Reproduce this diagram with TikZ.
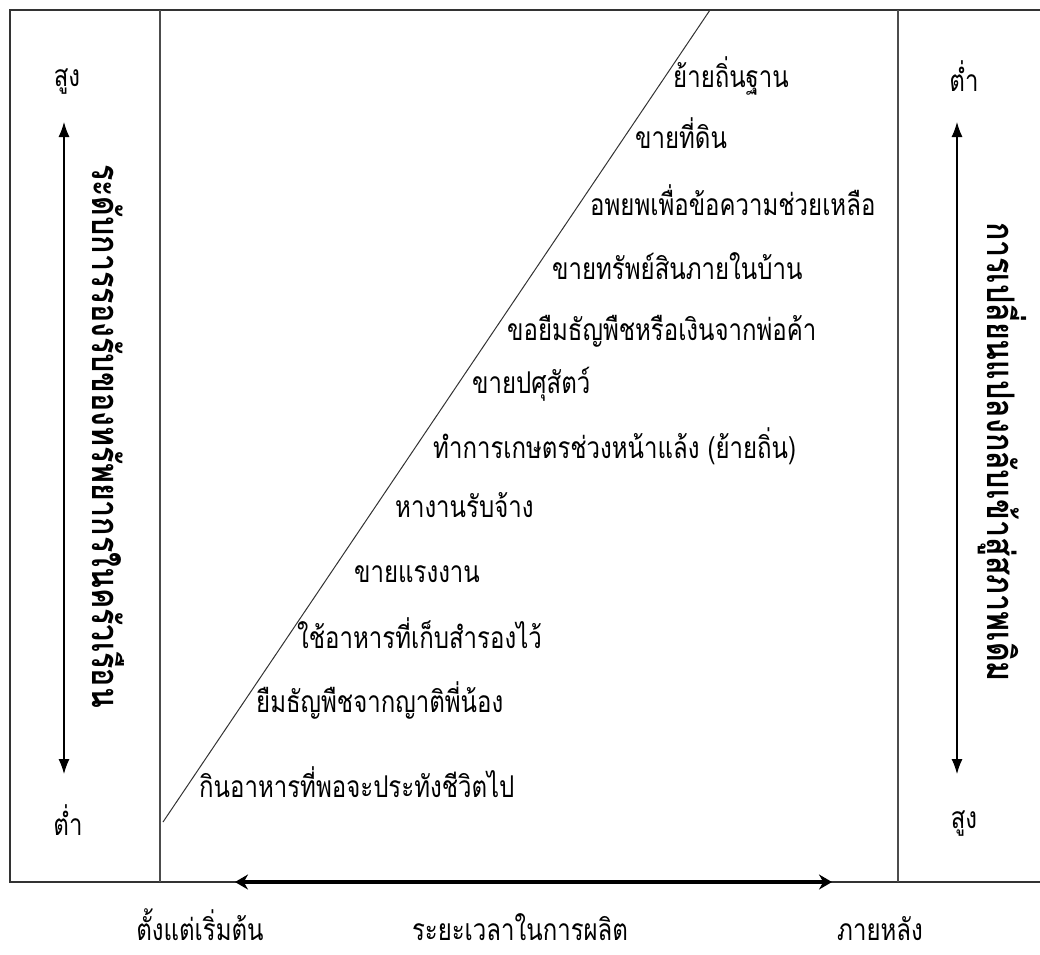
\documentclass[tikz,border=0pt]{standalone}
\usepackage{fontspec}
\newfontfamily\thaifont[Script=Thai,FakeStretch=0.8]{Loma}
\usetikzlibrary{arrows.meta}
\tikzset{
  frameline/.style={line width=1.6pt, draw=black!80},
  thinline/.style={line width=1.2pt, draw=black!70},
  scalearrow/.style={line width=1.1pt, {Latex[length=15pt,width=11pt]}-{Latex[length=15pt,width=11pt]}},
  timearrow/.style={line width=3.5pt, {Stealth[length=13pt,width=15pt]}-{Stealth[length=13pt,width=15pt]}},
  strat/.style={anchor=base west, inner sep=0pt, font=\thaifont\fontsize{30}{34}\selectfont},
  lvl/.style={inner sep=0pt, font=\thaifont\fontsize{30}{34}\selectfont},
  axistext/.style={rotate=-90, inner sep=0pt, font=\thaifont\bfseries\fontsize{38}{42}\selectfont},
}
\begin{document}
\begin{tikzpicture}[x=1pt, y=-1pt]
  \useasboundingbox (0,0) rectangle (1040,954);
  % frame
  \draw[frameline] (1040,10) -- (10,10) -- (10,882) -- (1040,882);
  \draw[thinline] (160,10) -- (160,882);
  \draw[thinline] (898,10) -- (898,882);
  \draw[line width=1pt, black!80] (163,822) -- (710,10);

  % left scale
  \node[lvl] (lhigh) at (67,82) {สูง};
  \node[lvl] (llow) at (68,820) {ต่ำ};
  \coordinate (ltop) at (64,122);
  \coordinate (lbot) at (64,774);
  \draw[scalearrow] (lbot) -- (ltop);
  \node[axistext] (laxis) at (108,436) {ระดับการรองรับของทรัพยากรในครัวเรือน};

  % right scale
  \node[lvl] (rlow) at (964,76) {ต่ำ};
  \node[lvl] (rhigh) at (964,824) {สูง};
  \coordinate (rtop) at (957,122);
  \coordinate (rbot) at (957,774);
  \draw[scalearrow] (rbot) -- (rtop);
  \node[axistext] (raxis) at (1002,452) {การเปลี่ยนแปลงกลับเข้าสู่สภาพเดิม};

  % strategies
  \node[strat] (s1) at (673,87) {ย้ายถิ่นฐาน};
  \node[strat] (s2) at (635,148) {ขายที่ดิน};
  \node[strat] (s3) at (590,215) {อพยพเพื่อข้อความช่วยเหลือ};
  \node[strat] (s4) at (552,279) {ขายทรัพย์สินภายในบ้าน};
  \node[strat] (s5) at (507,340) {ขอยืมธัญพืชหรือเงินจากพ่อค้า};
  \node[strat] (s6) at (472,393) {ขายปศุสัตว์};
  \node[strat] (s7) at (433,458) {ทำการเกษตรช่วงหน้าแล้ง (ย้ายถิ่น)};
  \node[strat] (s8) at (395,517) {หางานรับจ้าง};
  \node[strat] (s9) at (354,582) {ขายแรงงาน};
  \node[strat] (s10) at (297,648) {ใช้อาหารที่เก็บสำรองไว้};
  \node[strat] (s11) at (256,712) {ยืมธัญพืชจากญาติพี่น้อง};
  \node[strat] (s12) at (199,797) {กินอาหารที่พอจะประทังชีวิตไป};

  % time axis
  \coordinate (tstart) at (235,882);
  \coordinate (tend) at (832,882);
  \draw[timearrow] (tstart) -- (tend);
  \node[lvl, anchor=base] (t1) at (200,940) {ตั้งแต่เริ่มต้น};
  \node[lvl, anchor=base] (t2) at (520,940) {ระยะเวลาในการผลิต};
  \node[lvl, anchor=base] (t3) at (880,940) {ภายหลัง};
\end{tikzpicture}
\end{document}
